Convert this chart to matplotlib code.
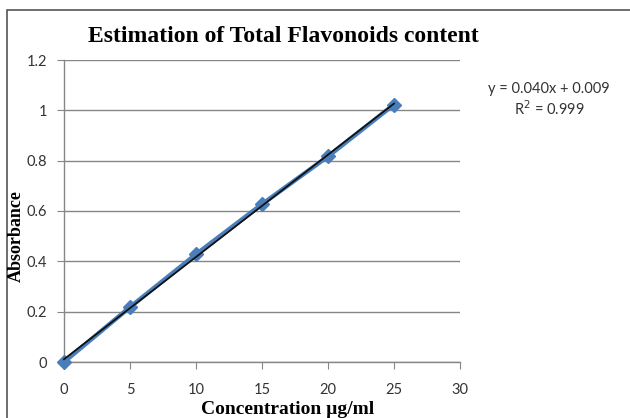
import numpy as np
import matplotlib
matplotlib.use("Agg")
import matplotlib.pyplot as plt
from matplotlib.patches import Rectangle

conc = [0, 5, 10, 15, 20, 25]
absorbance = [0.0, 0.218, 0.428, 0.627, 0.817, 1.023]
x_ticks = [0, 5, 10, 15, 20, 25, 30]
y_ticks = [0, 0.2, 0.4, 0.6, 0.8, 1, 1.2]
y_tick_labels = ["0", "0.2", "0.4", "0.6", "0.8", "1", "1.2"]
title = "Estimation of Total Flavonoids content"
xlabel = "Concentration µg/ml"
ylabel = "Absorbance"
eq_text = "y = 0.040x + 0.009"
r2_text = "R$^2$ = 0.999"

fig = plt.figure(figsize=(6.3, 4.18), dpi=100)
fig.patch.set_facecolor("white")

# chart area border
fig.add_artist(Rectangle((7/630, -0.1), 1.0, 1 - 10/418 + 0.1, transform=fig.transFigure,
                         fill=False, edgecolor="#555555", linewidth=1.2))

ax = fig.add_axes([64/630, 1 - 362/418, (460-64)/630, (362-60)/418])
ax.set_xlim(0, 30)
ax.set_ylim(0, 1.2)

for s in ["top", "right"]:
    ax.spines[s].set_visible(False)
for s in ["left", "bottom"]:
    ax.spines[s].set_color("#868686")
    ax.spines[s].set_linewidth(1.0)

ax.set_yticks(y_ticks)
ax.set_yticklabels(y_tick_labels)
ax.set_xticks(x_ticks)
ax.yaxis.grid(True, color="#868686", linewidth=1.0)
ax.set_axisbelow(True)
ax.tick_params(axis="both", direction="out", length=5, color="#868686",
               labelsize=10.5, labelcolor="#333333")
ax.tick_params(axis="x", pad=10)
ax.tick_params(axis="y", pad=7)
for lab in ax.get_xticklabels() + ax.get_yticklabels():
    lab.set_fontfamily("Lato")

ax.plot(conc, absorbance, color="#4a7ebb", linewidth=3.2, marker="D",
        markersize=7, markeredgecolor="#4a7ebb", clip_on=False, zorder=3)

coef = np.polyfit(conc, absorbance, 1)
xs = np.array([min(conc), max(conc)])
ax.plot(xs, np.polyval(coef, xs), color="#111111", linewidth=1.3, zorder=4, clip_on=False)

fig.text(283/630, 1 - 37/418, title, ha="center", va="center",
         fontsize=17, fontweight="bold", family="Liberation Serif")
fig.text(288/630, 1 - 410/418, xlabel, ha="center", va="center",
         fontsize=14, fontweight="bold", family="Liberation Serif")
fig.text(16/630, 1 - 236/418, ylabel, ha="center", va="center", rotation=90,
         fontsize=13, fontweight="bold", family="Liberation Serif")
fig.text(549/630, 1 - 89/418, eq_text, ha="center", va="center",
         fontsize=10.5, family="Lato", color="#333333")
fig.text(549/630, 1 - 109/418, r2_text, ha="center", va="center",
         fontsize=10.5, family="Lato", color="#333333")

fig.savefig("out.png", dpi=100)
